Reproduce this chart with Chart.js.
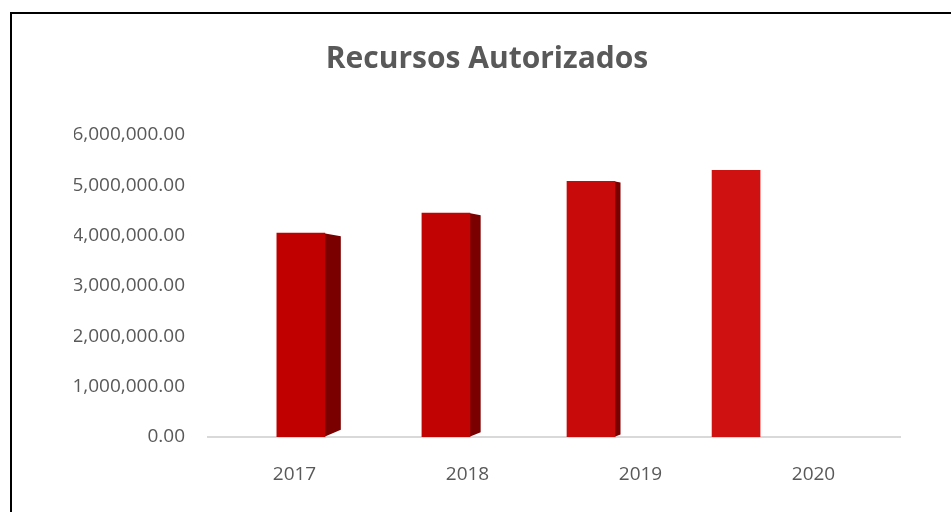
<!DOCTYPE html>
<html>
<head>
<meta charset="utf-8">
<script src="https://cdn.jsdelivr.net/npm/chart.js@4/dist/chart.umd.min.js"></script>
<style>
  html, body { margin: 0; padding: 0; background: #fff; }
  #wrap { position: relative; width: 951px; height: 512px; overflow: hidden; }
  #frame { position: absolute; left: 10px; top: 12px; width: 1000px; height: 600px;
           border-left: 2px solid #000; border-top: 2px solid #000; box-sizing: border-box; pointer-events: none; }
  canvas { position: absolute; left: 0; top: 0; }
</style>
</head>
<body>
<div id="wrap">
  <canvas id="c" width="951" height="512"></canvas>
  <div id="frame"></div>
</div>
<script>
const chartTitle = 'Recursos Autorizados';
const categories = ['2017', '2018', '2019', '2020'];
const values = [4050000, 4450000, 5080000, 5300000];
const yTicks = [0, 1000000, 2000000, 3000000, 4000000, 5000000, 6000000];

const frontColors = ['#c00000', '#c20303', '#c80a0a', '#cf1111'];
const sideColor = '#7a0000';

const sideFaces = {
  id: 'sideFaces',
  beforeDatasetsDraw(chart) {
    const ctx = chart.ctx;
    const meta = chart.getDatasetMeta(0);
    const vanish = chart.chartArea.left + (chart.chartArea.right - chart.chartArea.left) * 0.775;
    meta.data.forEach((bar) => {
      const depth = Math.max(0, (vanish - bar.x) * 0.036);
      if (depth < 0.5) return;
      const right = bar.x + bar.width / 2;
      ctx.save();
      ctx.fillStyle = sideColor;
      ctx.beginPath();
      ctx.moveTo(right - 1, bar.y);
      ctx.lineTo(right + depth, bar.y + depth * 0.2);
      ctx.lineTo(right + depth, bar.base - depth * 0.45);
      ctx.lineTo(right - 1, bar.base);
      ctx.closePath();
      ctx.fill();
      ctx.restore();
    });
  }
};

new Chart(document.getElementById('c'), {
  type: 'bar',
  data: {
    labels: categories,
    datasets: [{
      data: values.map((v, i) => ({ x: i, y: v })),
      xAxisID: 'xb',
      backgroundColor: frontColors,
      borderWidth: 0,
      barThickness: 48
    }]
  },
  options: {
    responsive: false,
    animation: false,
    devicePixelRatio: 1,
    layout: { padding: { top: 28, right: 51, bottom: 25, left: 74 } },
    plugins: {
      legend: { display: false },
      tooltip: { enabled: false },
      title: {
        display: true,
        text: chartTitle,
        color: '#595959',
        font: { family: 'Open Sans', size: 30, weight: 'bold' },
        padding: { top: 13, bottom: 58 }
      }
    },
    scales: {
      x: {
        type: 'category',
        labels: categories,
        offset: true,
        grid: { display: false, drawTicks: false },
        border: { display: true, color: '#d9d9d9', width: 2 },
        ticks: { color: '#595959', font: { family: 'Open Sans', size: 19 }, padding: 26 },
        afterFit(scale) { scale.height = 50; }
      },
      xb: {
        type: 'linear',
        display: false,
        offset: false,
        min: -0.64,
        max: 4.13
      },
      y: {
        min: 0,
        max: 6000000,
        afterBuildTicks(scale) { scale.ticks = yTicks.map(v => ({ value: v })); },
        afterFit(scale) { scale.width = 134; },
        grid: { display: false, drawTicks: false },
        border: { display: false },
        ticks: {
          color: '#595959',
          font: { family: 'Open Sans', size: 19 },
          padding: 23,
          callback: (v) => Number(v).toLocaleString('en-US', { minimumFractionDigits: 2, maximumFractionDigits: 2 })
        }
      }
    }
  },
  plugins: [sideFaces]
});
</script>
</body>
</html>
